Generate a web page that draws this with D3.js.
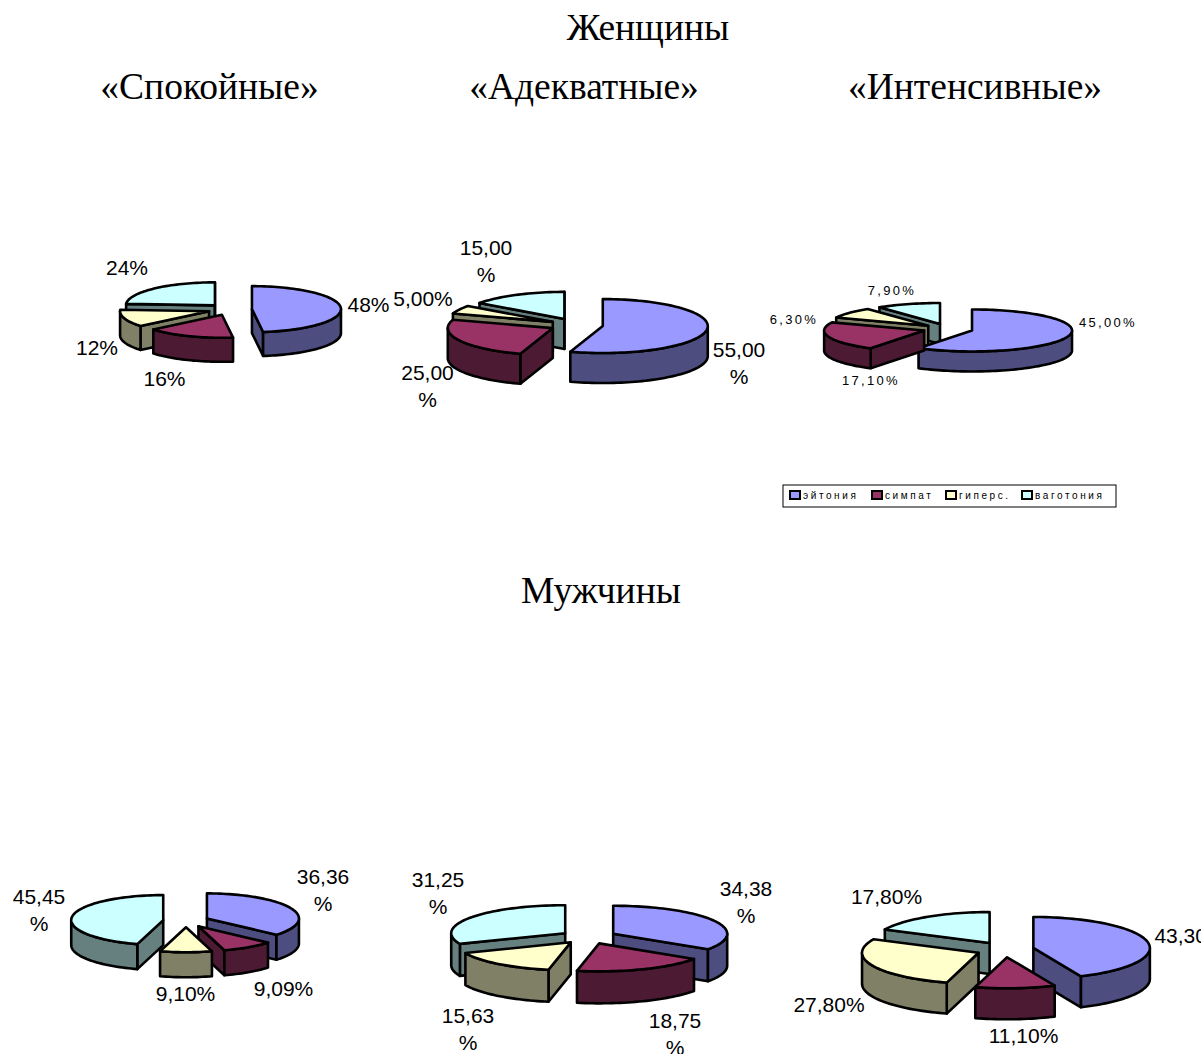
<!DOCTYPE html>
<html lang="ru">
<head>
<meta charset="utf-8">
<title>Женщины и мужчины: вегетативный тонус</title>
<script src="https://cdn.jsdelivr.net/npm/d3@7"></script>
<style>
  html, body { margin: 0; padding: 0; background: #fff; overflow: hidden; }
  svg { display: block; }
  .title { font-family: "Liberation Serif", serif; font-size: 37.5px; text-anchor: middle; fill: #000; }
  .value { font-family: "Liberation Sans", Arial, sans-serif; font-size: 21px; fill: #000; }
  .value.small { font-size: 13px; letter-spacing: 2.3px; }
  .legend-text { font-family: "Liberation Sans", Arial, sans-serif; font-size: 10px; letter-spacing: 2.6px; fill: #000; }
</style>
</head>
<body>
<svg id="chart" width="1201" height="1054"></svg>
<script>
// Categories and colours shared by all six pies
const categories = ["эйтония", "симпат", "гиперс.", "ваготония"];
const topColors = ["#9999FF", "#993366", "#FFFFCC", "#CCFFFF"];
const sideColors = ["#4D4D80", "#4D1A33", "#808066", "#668080"];

// Slice values, in percent
const womenCalm = [48, 16, 12, 24];
const womenAdequate = [55, 25, 5, 15];
const womenIntensive = [45, 17.1, 6.3, 7.9];
const menCalm = [36.36, 9.09, 9.10, 45.45];
const menAdequate = [34.38, 18.75, 15.63, 31.25];
const menIntensive = [43.30, 11.10, 27.80, 17.80];

// Value labels, with "\n" where a label wraps
const womenCalmLabels = ["48%", "16%", "12%", "24%"];
const womenAdequateLabels = ["55,00\n%", "25,00\n%", "5,00%", "15,00\n%"];
const womenIntensiveLabels = ["45,00%", "17,10%", "6,30%", "7,90%"];
const menCalmLabels = ["36,36\n%", "9,09%", "9,10%", "45,45\n%"];
const menAdequateLabels = ["34,38\n%", "18,75\n%", "15,63\n%", "31,25\n%"];
const menIntensiveLabels = ["43,30%", "11,10%", "27,80%", "17,80%"];

// Headings
const headings = [
  { text: "Женщины", x: 648, y: 40 },
  { text: "«Спокойные»", x: 209.5, y: 99 },
  { text: "«Адекватные»", x: 584, y: 99 },
  { text: "«Интенсивные»", x: 975, y: 99 },
  { text: "Мужчины", x: 601, y: 603 }
];

// Geometry of each pie plus where its labels sit
const panels = [
  { values: womenCalm, labels: womenCalmLabels, cx: 230, cy: 309.5, rx: 89, ry: 23, depth: 24, explode: 22,
    labelAt: [[368.5, 312], [164.5, 386], [97, 355], [127, 275]] },
  { values: womenAdequate, labels: womenAdequateLabels, cx: 576.5, cy: 325, rx: 105, ry: 27, depth: 30, explode: 26.6,
    labelAt: [[739, 357], [427.5, 380], [423, 306], [486, 255]] },
  { values: womenIntensive, labels: womenIntensiveLabels, cx: 948, cy: 329, rx: 100, ry: 21, depth: 20, explode: 25, small: true,
    labelAt: [[1108, 327], [871, 385], [794, 324], [892, 295]] },
  { values: menCalm, labels: menCalmLabels, cx: 186, cy: 921, rx: 92, ry: 25, depth: 25, explode: 23,
    labelAt: [[323, 884], [283.5, 996], [185.5, 1001], [39, 904]] },
  { values: menAdequate, labels: menAdequateLabels, cx: 588.5, cy: 937, rx: 114, ry: 28, depth: 32, explode: 28,
    labelAt: [[746, 896], [675, 1028], [468, 1023], [438, 887]] },
  { values: menIntensive, labels: menIntensiveLabels, cx: 1005, cy: 949.6, rx: 116.5, ry: 31, depth: 31, explode: 29,
    labelAt: [[1190, 943], [1023.5, 1043], [829, 1012], [886.5, 904]] }
];

const svg = d3.select("#chart");
const pieLayout = d3.pie().sort(null).value(d => d);
const HALF_PI = Math.PI / 2, THREE_HALF_PI = 3 * Math.PI / 2;

// Samples an arc from a0 to a1 in about 2 degree steps
function arcAngles(a0, a1) {
  const n = Math.max(2, Math.ceil((a1 - a0) / 0.035));
  return d3.range(n + 1).map(i => a0 + (a1 - a0) * i / n);
}

function drawPie(panel) {
  const g = svg.append("g");
  const sx = d3.scaleLinear().domain([-1, 1]).range([-panel.rx, panel.rx]);
  const sy = d3.scaleLinear().domain([-1, 1]).range([-panel.ry, panel.ry]);
  const line = d3.line();

  const slices = pieLayout(panel.values).map((s, i) => {
    const mid = (s.startAngle + s.endAngle) / 2;
    const offset = panel.explode / panel.rx;
    return {
      ...s, i, mid,
      ax: panel.cx + sx(Math.sin(mid) * offset),
      ay: panel.cy + sy(-Math.cos(mid) * offset)
    };
  });

  // Back slices first, so nearer ones paint over them
  slices.sort((a, b) => Math.cos(b.mid) - Math.cos(a.mid));

  slices.forEach(s => {
    const rim = a => [s.ax + sx(Math.sin(a)), s.ay + sy(-Math.cos(a))];
    const drop = ([x, y]) => [x, y + panel.depth];
    const apex = [s.ax, s.ay];
    const face = (points, fill) => g.append("path")
      .attr("d", line(points) + "Z")
      .attr("fill", fill)
      .attr("stroke", "#000")
      .attr("stroke-width", 2.6)
      .attr("stroke-linejoin", "round");

    // Radial walls show only when they turn towards the viewer
    if (Math.sin(s.startAngle) < 0) {
      const p = rim(s.startAngle);
      face([apex, p, drop(p), drop(apex)], sideColors[s.i]);
    }
    if (Math.sin(s.endAngle) > 0) {
      const p = rim(s.endAngle);
      face([apex, p, drop(p), drop(apex)], sideColors[s.i]);
    }

    // Outer wall covers the part of the rim on the near half
    const w0 = Math.max(s.startAngle, HALF_PI), w1 = Math.min(s.endAngle, THREE_HALF_PI);
    if (w1 > w0) {
      const edge = arcAngles(w0, w1).map(rim);
      face(edge.concat(edge.map(drop).reverse()), sideColors[s.i]);
    }

    face([apex].concat(arcAngles(s.startAngle, s.endAngle).map(rim)), topColors[s.i]);
  });

  // Value labels; wrapped lines sit one line height apart
  const lineStep = 27;
  panel.labels.forEach((label, i) => {
    const [x, y] = panel.labelAt[i];
    const text = g.append("text")
      .attr("class", panel.small ? "value small" : "value")
      .attr("text-anchor", "middle");
    label.split("\n").forEach((part, k) => {
      text.append("tspan").attr("x", x).attr("y", y + k * lineStep).text(part);
    });
  });
}

panels.forEach(drawPie);

svg.selectAll("text.title")
  .data(headings)
  .join("text")
  .attr("class", "title")
  .attr("x", d => d.x)
  .attr("y", d => d.y)
  .text(d => d.text);

// Legend box under the top row
const legend = svg.append("g").attr("transform", "translate(783,485)");
legend.append("rect")
  .attr("x", 0).attr("y", 0).attr("width", 333).attr("height", 22)
  .attr("fill", "#fff").attr("stroke", "#000").attr("stroke-width", 1);
const legendOffsets = [0, 82, 156, 232];
categories.forEach((c, i) => {
  const x = 7 + legendOffsets[i];
  const item = legend.append("g");
  item.append("rect")
    .attr("x", x).attr("y", 6).attr("width", 10).attr("height", 8)
    .attr("fill", topColors[i]).attr("stroke", "#000").attr("stroke-width", 2);
  item.append("text")
    .attr("class", "legend-text")
    .attr("x", x + 13).attr("y", 14)
    .text(c);
});
</script>
</body>
</html>
